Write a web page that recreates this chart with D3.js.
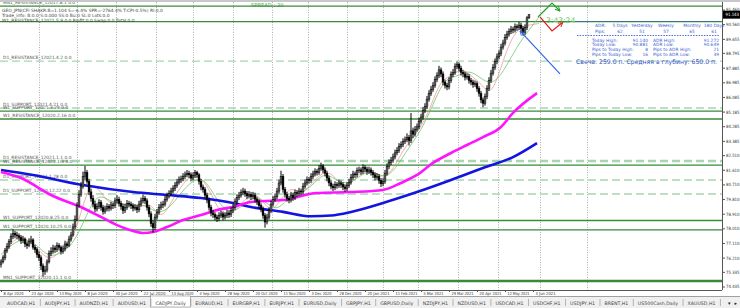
<!DOCTYPE html>
<html>
<head>
<meta charset="utf-8">
<script src="https://cdn.jsdelivr.net/npm/d3@7"></script>
<style>
  body { margin: 0; background: #fff; overflow: hidden; }
  svg { display: block; font-family: "DejaVu Sans", "Liberation Sans", sans-serif; }
</style>
</head>
<body>
<div id="svg-holder"></div>
<script>
// CADJPY, Daily - daily candles, one row per bar: [open, high, low, close]
const candles = [
[75.80,76.10,75.60,75.95],[75.95,76.35,75.85,76.20],[76.20,76.80,76.05,76.65],[76.65,77.10,76.50,76.90],
[76.90,77.35,76.75,77.20],[77.20,77.70,77.05,77.50],[77.50,77.95,77.35,77.70],[77.70,77.85,77.40,77.60],
[77.60,77.80,77.35,77.55],[77.55,77.70,77.25,77.45],[77.45,77.60,77.05,77.25],[77.25,77.55,77.10,77.35],
[77.35,77.45,76.85,77.05],[77.05,77.20,76.75,76.95],[76.95,77.40,76.85,77.20],[77.20,77.55,77.05,77.30],
[77.30,77.40,76.70,76.85],[76.85,77.00,76.50,76.70],[76.70,76.85,76.20,76.40],[76.40,76.60,76.00,76.20],
[76.20,76.35,75.45,75.70],[75.70,75.85,75.05,75.35],[75.35,75.70,75.15,75.45],[75.45,76.10,75.30,75.95],
[75.95,76.65,75.85,76.45],[76.45,76.85,76.30,76.60],[76.60,77.00,76.45,76.80],[76.80,76.95,76.50,76.70],
[76.70,77.15,76.55,76.95],[76.95,77.10,76.65,76.85],[76.85,76.95,76.40,76.60],[76.60,76.95,76.45,76.75],
[76.75,77.25,76.60,77.05],[77.05,77.20,76.80,76.95],[76.95,77.55,76.85,77.35],[77.35,77.80,77.20,77.60],
[77.60,78.30,77.50,78.10],[78.10,78.80,77.95,78.55],[78.55,79.60,78.45,79.40],[79.40,80.35,79.30,80.10],
[80.10,80.85,79.95,80.60],[80.60,81.50,80.45,81.20],[81.20,81.85,81.00,81.45],[81.45,81.60,80.75,80.90],
[80.90,81.05,80.05,80.25],[80.25,80.45,79.65,79.85],[79.85,80.05,79.30,79.50],[79.50,79.70,79.00,79.20],
[79.20,79.55,79.05,79.35],[79.35,79.80,79.20,79.60],[79.60,79.75,79.10,79.30],[79.30,79.45,78.85,79.05],
[79.05,79.40,78.90,79.20],[79.20,79.55,79.05,79.35],[79.35,79.50,79.05,79.25],[79.25,79.65,79.10,79.45],
[79.45,79.60,79.20,79.40],[79.40,79.90,79.25,79.70],[79.70,80.05,79.55,79.80],[79.80,79.95,79.35,79.55],
[79.55,79.70,79.15,79.35],[79.35,79.50,78.90,79.10],[79.10,79.50,78.95,79.30],[79.30,79.75,79.15,79.55],
[79.55,79.70,79.30,79.50],[79.50,79.65,79.20,79.40],[79.40,79.55,79.05,79.25],[79.25,79.50,79.10,79.30],
[79.30,79.45,78.95,79.15],[79.15,79.70,79.00,79.50],[79.50,79.90,79.35,79.70],[79.70,80.10,79.55,79.85],
[79.85,80.00,79.50,79.70],[79.70,79.85,79.10,79.30],[79.30,79.45,78.70,78.90],[78.90,79.05,78.10,78.30],
[78.30,78.50,77.75,78.05],[78.05,78.90,77.90,78.70],[78.70,79.20,78.55,79.00],[79.00,79.50,78.85,79.30],
[79.30,79.65,79.15,79.45],[79.45,79.70,79.25,79.50],[79.50,80.00,79.35,79.80],[79.80,80.20,79.65,80.00],
[80.00,80.35,79.85,80.15],[80.15,80.50,80.00,80.30],[80.30,80.65,80.15,80.45],[80.45,80.85,80.30,80.65],
[80.65,81.05,80.50,80.85],[80.85,81.20,80.70,81.00],[81.00,81.25,80.80,81.05],[81.05,81.40,80.90,81.20],
[81.20,81.50,81.05,81.30],[81.30,81.60,81.15,81.40],[81.40,81.55,81.10,81.30],[81.30,81.45,80.90,81.10],
[81.10,81.45,80.95,81.25],[81.25,81.60,81.10,81.45],[81.45,81.55,81.10,81.30],[81.30,81.40,80.70,80.90],
[80.90,81.05,80.35,80.55],[80.55,80.70,80.20,80.40],[80.40,80.55,79.85,80.05],[80.05,80.20,79.55,79.75],
[79.75,79.90,79.10,79.30],[79.30,79.45,78.75,78.95],[78.95,79.15,78.65,78.85],[78.85,79.00,78.50,78.70],
[78.70,78.85,78.40,78.60],[78.60,79.00,78.45,78.80],[78.80,79.10,78.65,78.90],[78.90,79.05,78.50,78.70],
[78.70,79.00,78.55,78.80],[78.80,79.15,78.65,78.95],[78.95,79.10,78.65,78.85],[78.85,79.30,78.70,79.10],
[79.10,79.50,78.95,79.30],[79.30,79.85,79.15,79.65],[79.65,80.10,79.50,79.90],[79.90,80.25,79.75,80.05],
[80.05,80.40,79.90,80.20],[80.20,80.50,80.05,80.30],[80.30,80.45,79.95,80.15],[80.15,80.30,79.80,80.00],
[80.00,80.30,79.85,80.10],[80.10,80.25,79.75,79.95],[79.95,80.25,79.80,80.05],[80.05,80.20,79.60,79.80],
[79.80,79.95,79.45,79.65],[79.65,79.80,79.20,79.40],[79.40,79.55,79.00,79.20],[79.20,79.35,78.60,78.80],
[78.80,78.95,78.05,78.40],[78.40,78.90,78.25,78.70],[78.70,79.30,78.55,79.10],[79.10,79.70,78.95,79.50],
[79.50,80.00,79.35,79.80],[79.80,80.15,79.65,79.95],[79.95,80.50,79.80,80.30],[80.30,81.00,80.15,80.80],
[80.80,81.55,80.65,81.20],[81.20,81.35,80.20,80.40],[80.40,80.55,79.90,80.10],[80.10,80.25,79.65,79.85],
[79.85,80.00,79.55,79.75],[79.75,80.25,79.60,80.05],[80.05,80.20,79.70,79.90],[79.90,80.40,79.75,80.20],
[80.20,80.35,79.95,80.15],[80.15,80.50,80.00,80.30],[80.30,80.45,80.05,80.25],[80.25,80.80,80.10,80.60],
[80.60,81.00,80.45,80.80],[80.80,81.20,80.65,81.00],[81.00,81.15,80.75,80.95],[80.95,81.40,80.80,81.20],
[81.20,81.55,81.05,81.35],[81.35,81.70,81.20,81.50],[81.50,81.65,81.25,81.45],[81.45,81.90,81.30,81.70],
[81.70,82.05,81.55,81.85],[81.85,81.95,81.40,81.60],[81.60,81.75,81.20,81.40],[81.40,81.55,80.90,81.10],
[81.10,81.25,80.60,80.80],[80.80,80.95,80.40,80.60],[80.60,80.75,80.30,80.50],[80.50,80.90,80.35,80.70],
[80.70,80.85,80.45,80.65],[80.65,81.00,80.50,80.80],[80.80,80.95,80.50,80.70],[80.70,80.85,80.35,80.55],
[80.55,80.70,80.25,80.45],[80.45,80.85,80.30,80.65],[80.65,81.05,80.50,80.85],[80.85,81.35,80.70,81.15],
[81.15,81.55,81.00,81.35],[81.35,81.50,81.10,81.30],[81.30,81.75,81.15,81.55],[81.55,81.80,81.40,81.60],
[81.60,81.75,81.30,81.50],[81.50,81.95,81.35,81.75],[81.75,81.90,81.45,81.65],[81.65,81.80,81.30,81.50],
[81.50,81.80,81.35,81.60],[81.60,81.75,81.25,81.45],[81.45,81.60,81.10,81.30],[81.30,81.45,80.95,81.15],
[81.15,81.40,81.00,81.20],[81.20,81.35,80.75,80.95],[80.95,81.10,80.55,80.75],[80.75,81.10,80.60,80.90],
[80.90,81.60,80.75,81.40],[81.40,82.00,81.25,81.80],[81.80,82.25,81.65,82.05],[82.05,82.40,81.90,82.20],
[82.20,82.60,82.05,82.40],[82.40,82.85,82.25,82.65],[82.65,83.00,82.50,82.80],[82.80,83.25,82.65,83.05],
[83.05,83.35,82.90,83.15],[83.15,83.55,83.00,83.35],[83.35,83.65,83.20,83.45],[83.45,83.85,83.30,83.60],
[83.60,83.75,83.10,83.40],[83.40,85.10,83.25,84.00],[84.00,84.20,83.55,83.80],[83.80,84.30,83.65,84.10],
[84.10,84.45,83.95,84.25],[84.25,84.80,84.10,84.60],[84.60,85.05,84.45,84.85],[84.85,85.45,84.70,85.25],
[85.25,85.70,85.10,85.50],[85.50,86.15,85.35,85.95],[85.95,86.50,85.80,86.30],[86.30,86.75,86.15,86.55],
[86.55,87.00,86.40,86.80],[86.80,87.35,86.65,87.15],[87.15,87.60,87.00,87.40],[87.40,88.00,87.25,87.75],
[87.75,87.90,87.30,87.50],[87.50,87.65,86.80,87.00],[87.00,87.15,86.60,86.80],[86.80,86.95,86.50,86.70],
[86.70,87.30,86.55,87.10],[87.10,87.65,86.95,87.45],[87.45,87.80,87.30,87.60],[87.60,88.15,87.45,87.95],
[87.95,88.25,87.80,88.10],[88.10,88.20,87.65,87.85],[87.85,88.00,87.40,87.60],[87.60,87.75,87.30,87.50],
[87.50,87.65,87.10,87.30],[87.30,87.55,87.15,87.35],[87.35,87.50,86.90,87.10],[87.10,87.25,86.80,87.00],
[87.00,87.15,86.65,86.85],[86.85,87.10,86.70,86.90],[86.90,87.05,86.40,86.60],[86.60,86.75,86.10,86.30],
[86.30,86.45,85.70,85.90],[85.90,86.05,85.45,85.70],[85.70,86.30,85.55,86.10],[86.10,86.80,85.95,86.60],
[86.60,87.30,86.45,87.10],[87.10,87.75,86.95,87.55],[87.55,88.10,87.40,87.90],[87.90,88.45,87.75,88.25],
[88.25,88.75,88.10,88.55],[88.55,88.95,88.40,88.75],[88.75,89.35,88.60,89.15],[89.15,89.60,89.00,89.40],
[89.40,89.95,89.25,89.75],[89.75,90.15,89.60,89.95],[89.95,90.30,89.80,90.10],[90.10,90.45,89.95,90.25],
[90.25,90.40,90.00,90.20],[90.20,90.60,90.05,90.40],[90.40,90.55,90.15,90.35],[90.35,90.70,90.20,90.50],
[90.50,90.65,90.10,90.30],[90.30,90.45,89.85,90.05],[90.05,90.55,89.90,90.35],[90.35,91.05,90.20,90.95],
[90.95,91.14,90.88,91.14]
];

// moving averages, sampled as [bar, price]
const maSlow = [[0,81.60],[16,81.29],[41,80.67],[66,80.24],[83,80.06],[100,79.87],[116,79.57],[125,79.32],
  [141,79.02],[155,78.75],[165,78.80],[175,79.02],[191,79.57],[208,80.24],[225,80.98],[241,81.72],[256,82.39],[268,83.25]];
const maMid = [[0,81.47],[10,81.10],[25,80.06],[41,79.26],[50,78.71],[58,78.21],[66,77.85],[71,77.72],[76,77.78],
  [83,78.09],[91,78.52],[100,78.83],[108,79.14],[116,79.32],[125,79.63],[141,79.75],[158,80.18],[175,80.24],
  [191,80.37],[200,80.80],[208,81.29],[216,82.03],[225,82.64],[233,83.13],[241,83.62],[250,84.24],[256,85.10],[268,86.32]];
const maFast = [[0,76.4],[6,77.1],[12,77.4],[18,77.0],[24,76.2],[30,76.5],[36,77.0],[42,78.6],[48,80.2],[54,79.7],
  [60,79.5],[66,79.4],[72,79.5],[78,78.9],[84,79.2],[90,80.2],[96,81.0],[102,81.1],[108,79.7],[114,78.9],[120,79.3],
  [126,80.0],[132,79.7],[138,79.0],[144,80.0],[150,80.1],[156,80.7],[162,81.5],[168,80.9],[174,80.7],[180,81.3],
  [186,81.6],[192,81.0],[198,81.8],[204,83.0],[210,84.0],[216,85.6],[222,87.3],[228,87.3],[234,87.8],[240,87.2],
  [246,86.8],[252,87.8],[258,89.2],[264,90.2],[269,91.0]];
const maSignal = [[0,76.0],[5,77.2],[10,77.5],[15,77.2],[20,76.5],[25,76.0],[30,76.7],[35,77.0],[40,79.0],[45,81.0],
  [50,80.2],[55,79.4],[60,79.6],[65,79.4],[70,79.3],[75,79.6],[80,78.5],[85,79.6],[90,80.6],[95,81.3],[100,81.2],
  [105,80.2],[110,78.8],[115,78.8],[120,79.5],[125,80.2],[130,79.9],[135,78.9],[140,79.8],[145,80.6],[150,80.1],
  [155,80.7],[160,81.4],[165,81.5],[170,80.6],[175,80.7],[180,81.5],[185,81.6],[190,81.1],[195,81.4],[200,82.6],
  [205,83.5],[210,84.2],[215,85.5],[220,87.2],[225,87.3],[230,87.9],[235,87.4],[240,86.9],[245,86.1],[250,87.9],
  [255,89.7],[260,90.4],[264,90.5],[269,90.6]];

// support / resistance levels
const levelPrice = [91.67, 90.72, 88.29, 85.41, 85.22, 84.73, 82.15, 81.90, 80.98, 80.12, 78.49, 77.91, 74.77];
const levelStyle = ["solid","solid","dash","dash","solid","solid","dashBold","solid","dash","dash","solid","solid","solidBold"];
const levelLabel = ["MN1_RESISTANCE_12017.8.1 0.0", "", "D1_RESISTANCE_12021.4.2 0.0", "D1_SUPPORT_12021.4.21 0.0",
  "W1_SUPPORT_12021.3.28 0.0", "W1_RESISTANCE_12020.2.16 0.0", "D1_RESISTANCE_12021.1.1 0.0", "W1_RESISTANCE_12021.1.3 0.0",
  "D1_SUPPORT_12021.1.28 0.0", "D1_SUPPORT_12020.12.22 0.0", "W1_SUPPORT_12020.8.25 0.0", "W1_SUPPORT_12020.10.25 0.0",
  "MN1_SUPPORT_12020.11.1 0.0"];

const priceTicks = [91.460, 90.560, 89.655, 88.795, 87.885, 86.985, 86.085, 85.185, 84.285, 83.385,
  82.510, 81.610, 80.710, 79.810, 78.910, 78.010, 77.110, 76.210, 75.335, 74.435];
const lastPrice = 91.143;
const dateBars = [0,14,28,42,56,70,84,98,112,126,140,154,168,182,196,210,224,238,252,266];
const dateLabels = ["8 Apr 2020","23 Apr 2020","13 May 2020","8 Jun 2020","30 Jun 2020","22 Jul 2020","13 Aug 2020",
  "4 Sep 2020","28 Sep 2020","20 Oct 2020","11 Nov 2020","3 Dec 2020","28 Dec 2020","20 Jan 2021","11 Feb 2021",
  "5 Mar 2021","29 Mar 2021","20 Apr 2021","12 May 2021","3 Jun 2021"];
const gridBars = [19, 38, 57.5, 77.5, 96, 116, 135.5, 153.5, 173, 191, 208.5, 228.5, 248.5, 269.5, 293];

// drawn objects
const trendBlue = [[259.5, 90.14], [279.5, 87.50]];
const arrowGreen = [[268.5, 91.00], [275.5, 91.86], [279.5, 91.37]];
const arrowRed = [[269.5, 91.00], [275.5, 90.14], [281, 90.69]];

// info panel
const adrHead = ["5 Days", "Yesterday", "Weekly", "Monthly", "180 Days"];
const adrPips = ["62", "51", "57", "65", "61"];
const dayLeft = ["Today High:", "Today Low:", "Pips to Today High:", "Pips to Today Low:"];
const dayLeftVal = ["91.140", "90.881", "8", "16"];
const dayRight = ["ADR High:", "ADR Low:", "Pips to ADR High:", "Pips to ADR Low:"];
const dayRightVal = ["91.272", "90.649", "21", "39"];
const candleNote = "Свеча: 259.0 п. Средняя в глубину: 650.0 п.";
const timerText = "3:43:24";
const spreadText = "SPREAD : 20";
const headerLines = ["GEO_JPN(CFI SHAKR:B=1.104 S=-6.4% SPR=-2764.4% T:CPI-0.5%) RI:0.0",
  "Trade_info: B:0.0 S:0.000 SS:0 Bu:0 SL:0 Lots:0.0",
  "W1_RESISTANCE_12021.5.9 0.0  Profit:0.0 Swap:0.0 Total:0.0"];
const tabs = ["AUDCAD,H1","AUDJPY,H1","AUDNZD,H1","AUDUSD,H1","CADJPY,Daily","EURAUD,H1","EURGBP,H1","EURJPY,H1",
  "EURUSD,Daily","GBPJPY,H1","GBPUSD,Daily","NZDJPY,H1","NZDUSD,H1","USDCAD,H1","USDCHF,H1","USDJPY,H1",
  "BRENT,H1","US500Cash,Daily","XAUUSD,H1"];
const activeTab = "CADJPY,Daily";

const W = 740, H = 308, plotR = 722, plotB = 290;

let svg = d3.select("#svg-holder").append("svg")
  .attr("width", W).attr("height", H);

svg.append("rect").attr("width", W).attr("height", H).attr("fill", "#fff");

const x = d3.scaleLinear().domain([0, 360]).range([1, 721]);
const y = d3.scaleLinear().domain([74.435, 91.460]).range([286.5, 9.5]);

svg.append("clipPath").attr("id", "plot-clip")
  .append("rect").attr("x", 0).attr("y", 2).attr("width", plotR).attr("height", plotB - 2);

const plot = svg.append("g").attr("clip-path", "url(#plot-clip)");

// vertical dotted grid
plot.selectAll(".grid").data(gridBars).join("line")
  .attr("x1", d => Math.round(x(d)) + 0.5).attr("x2", d => Math.round(x(d)) + 0.5)
  .attr("y1", 2).attr("y2", plotB)
  .attr("stroke", "#9a9a9a").attr("stroke-width", 0.8).attr("stroke-dasharray", "1,1.5");

// levels
const lvStroke = { solid: "#3a8a3a", solidBold: "#3a8a3a", dash: "#a6d6b0", dashBold: "#a6d6b0" };
const lvWidth = { solid: 1.3, solidBold: 2.4, dash: 1.4, dashBold: 2.4 };
plot.selectAll(".lvl").data(levelPrice).join("line")
  .attr("x1", 0).attr("x2", plotR)
  .attr("y1", d => y(d)).attr("y2", d => y(d))
  .attr("stroke", (d, i) => lvStroke[levelStyle[i]])
  .attr("stroke-width", (d, i) => lvWidth[levelStyle[i]])
  .attr("stroke-dasharray", (d, i) => levelStyle[i].startsWith("dash") ? "8,4" : null);

plot.selectAll(".lvlText").data(levelPrice).join("text")
  .attr("x", 3).attr("y", d => y(d) - 1.6)
  .attr("font-size", 4.4).attr("fill", "#555")
  .text((d, i) => levelLabel[i]);

// moving averages
const ln = d3.line().x(d => x(d[0])).y(d => y(d[1])).curve(d3.curveMonotoneX);
const lnSoft = d3.line().x(d => x(d[0])).y(d => y(d[1])).curve(d3.curveBasis);
plot.append("path").attr("d", lnSoft(maSignal)).attr("fill", "none").attr("stroke", "#f08a8a").attr("stroke-width", 0.7);
plot.append("path").attr("d", lnSoft(maFast)).attr("fill", "none").attr("stroke", "#5cbf5c").attr("stroke-width", 0.7);
plot.append("path").attr("d", ln(maSlow)).attr("fill", "none").attr("stroke", "#1414e0").attr("stroke-width", 2.6);
plot.append("path").attr("d", ln(maMid)).attr("fill", "none").attr("stroke", "#ff14ff").attr("stroke-width", 2.6);

// candles
const cg = plot.append("g");
cg.selectAll("line").data(candles).join("line")
  .attr("x1", (d, i) => x(i)).attr("x2", (d, i) => x(i))
  .attr("y1", d => y(d[1])).attr("y2", d => y(d[2]))
  .attr("stroke", "#000").attr("stroke-width", 1);
cg.selectAll("rect").data(candles).join("rect")
  .attr("x", (d, i) => x(i) - 0.9).attr("width", 1.8)
  .attr("y", d => y(Math.max(d[0], d[3])))
  .attr("height", d => Math.max(0.7, Math.abs(y(d[0]) - y(d[3]))))
  .attr("fill", d => d[3] >= d[0] ? "#777" : "#000")
  .attr("stroke", "#000").attr("stroke-width", 0.5);

// drawn objects
const defs = svg.append("defs");
function head(id, color) {
  defs.append("marker").attr("id", id).attr("viewBox", "0 0 10 10")
    .attr("refX", 9).attr("refY", 5).attr("markerWidth", 5).attr("markerHeight", 5)
    .attr("orient", "auto-start-reverse")
    .append("path").attr("d", "M1,1 L9,5 L1,9").attr("fill", "none").attr("stroke", color).attr("stroke-width", 1.6);
}
head("hb", "#2a62e8"); head("hg", "#22a022"); head("hr", "#e01818");
const straight = d3.line().x(d => x(d[0])).y(d => y(d[1]));
svg.append("path").attr("d", straight(trendBlue)).attr("fill", "none")
  .attr("stroke", "#2a62e8").attr("stroke-width", 1.1).attr("marker-start", "url(#hb)");
svg.append("path").attr("d", straight(arrowGreen)).attr("fill", "none")
  .attr("stroke", "#22a022").attr("stroke-width", 1.2).attr("marker-end", "url(#hg)");
svg.append("path").attr("d", straight(arrowRed)).attr("fill", "none")
  .attr("stroke", "#e01818").attr("stroke-width", 1.2).attr("marker-end", "url(#hr)");

// timer
svg.append("text").attr("x", x(272.5)).attr("y", y(90.65))
  .attr("font-size", 7.6).attr("fill", "#66c266").text(timerText);

// frame
svg.append("rect").attr("x", 0).attr("y", 0).attr("width", W).attr("height", 2).attr("fill", "#c8c8c8");
svg.append("line").attr("x1", plotR + 0.5).attr("x2", plotR + 0.5).attr("y1", 2).attr("y2", plotB)
  .attr("stroke", "#555").attr("stroke-width", 1);
svg.append("line").attr("x1", 0).attr("x2", plotR).attr("y1", plotB + 0.5).attr("y2", plotB + 0.5)
  .attr("stroke", "#555").attr("stroke-width", 1);

// price axis
const ya = svg.append("g").attr("transform", `translate(${plotR + 1},0)`)
  .call(d3.axisRight(y).tickValues(priceTicks).tickSize(2).tickFormat(d3.format(".3f")));
ya.select(".domain").remove();
ya.selectAll("line").attr("stroke", "#555");
ya.selectAll("text").attr("x", 3).attr("font-size", 4.4).attr("fill", "#333")
  .attr("font-family", "DejaVu Sans, sans-serif")
  .attr("textLength", 13.5).attr("lengthAdjust", "spacingAndGlyphs");

// current price box
svg.append("rect").attr("x", plotR + 1).attr("y", y(lastPrice) - 4).attr("width", W - plotR - 1).attr("height", 8).attr("fill", "#000");
svg.append("text").attr("x", plotR + 3.5).attr("y", y(lastPrice) + 1.7)
  .attr("font-size", 4.4).attr("fill", "#fff")
  .attr("textLength", 13.5).attr("lengthAdjust", "spacingAndGlyphs")
  .text(d3.format(".3f")(lastPrice));

// time axis
const xa = svg.append("g").attr("transform", `translate(0,${plotB})`)
  .call(d3.axisBottom(x).tickValues(dateBars).tickSize(2).tickFormat((d, i) => dateLabels[i]));
xa.select(".domain").remove();
xa.selectAll("line").attr("stroke", "#555");
xa.selectAll("text").attr("text-anchor", "start").attr("dx", 2).attr("y", 2.5)
  .attr("font-size", 4.2).attr("fill", "#333").attr("font-family", "DejaVu Sans, sans-serif")
  .attr("textLength", (d, i) => dateLabels[i].length * 2.0).attr("lengthAdjust", "spacingAndGlyphs");

// header texts
svg.selectAll(".hdr").data(headerLines).join("text")
  .attr("x", 2).attr("y", (d, i) => 11.5 + i * 5)
  .attr("font-size", 4.4).attr("fill", "#444").text(d => d);
svg.append("text").attr("x", 251).attr("y", 6.5).attr("font-size", 5.2).attr("fill", "#3a9a3a").text(spreadText);

// ADR panel
const blue = "#3f5fcf";
const panel = svg.append("g").attr("fill", blue).attr("font-size", 4.4);
panel.append("line").attr("x1", 577).attr("x2", 720).attr("y1", 21.5).attr("y2", 21.5)
  .attr("stroke", blue).attr("stroke-width", 0.9).attr("stroke-dasharray", "1.5,1.2");
panel.append("line").attr("x1", 577).attr("x2", 720).attr("y1", 35.5).attr("y2", 35.5)
  .attr("stroke", blue).attr("stroke-width", 0.9).attr("stroke-dasharray", "1.5,1.2");
const colX = [620, 642, 666, 692, 714];
panel.append("text").attr("x", 595).attr("y", 27).text("ADR:");
panel.append("text").attr("x", 595).attr("y", 33).text("Pips:");
panel.selectAll(".ah").data(adrHead).join("text").attr("x", (d, i) => colX[i]).attr("y", 27)
  .attr("text-anchor", "middle").text(d => d);
panel.selectAll(".ap").data(adrPips).join("text").attr("x", (d, i) => colX[i]).attr("y", 33)
  .attr("text-anchor", "middle").text(d => d);
panel.selectAll(".dl").data(dayLeft).join("text").attr("x", 592).attr("y", (d, i) => 41.5 + i * 4.8).text(d => d);
panel.selectAll(".dlv").data(dayLeftVal).join("text").attr("x", 648).attr("y", (d, i) => 41.5 + i * 4.8)
  .attr("text-anchor", "end").text(d => d);
panel.selectAll(".dr").data(dayRight).join("text").attr("x", 653).attr("y", (d, i) => 41.5 + i * 4.8).text(d => d);
panel.selectAll(".drv").data(dayRightVal).join("text").attr("x", 719).attr("y", (d, i) => 41.5 + i * 4.8)
  .attr("text-anchor", "end").text(d => d);
svg.append("text").attr("x", 576).attr("y", 64).attr("font-size", 6.4).attr("fill", "#3450cc")
  .attr("textLength", 141).attr("lengthAdjust", "spacingAndGlyphs").text(candleNote);

// symbol tabs
svg.append("rect").attr("x", 0).attr("y", 296).attr("width", W).attr("height", 12).attr("fill", "#f0f0f0");
svg.append("line").attr("x1", 0).attr("x2", W).attr("y1", 296.5).attr("y2", 296.5).attr("stroke", "#a0a0a0");
const tg = svg.append("g").attr("font-size", 4.7).attr("fill", "#444");
let tx = 2;
tabs.forEach(t => {
  const txt = tg.append("text").attr("x", tx + 5).attr("y", 304.5).text(t);
  const w = txt.node().getComputedTextLength() + 9.5;
  if (t === activeTab) {
    tg.insert("rect", "text").attr("x", tx).attr("y", 296).attr("width", w).attr("height", 11)
      .attr("fill", "#fff").attr("stroke", "#888").attr("stroke-width", 0.6);
  }
  tx += w;
  tg.append("line").attr("x1", tx + 0.5).attr("x2", tx + 0.5).attr("y1", 299).attr("y2", 306)
    .attr("stroke", "#999").attr("stroke-width", 0.7);
});
svg.append("rect").attr("x", 726).attr("y", 297).attr("width", 14).attr("height", 11).attr("fill", "#f0f0f0");
svg.append("text").attr("x", 728).attr("y", 305).attr("font-size", 5).attr("fill", "#222").text("▾");
svg.append("text").attr("x", 734.5).attr("y", 305).attr("font-size", 5).attr("fill", "#222").text("▸");
</script>
</body>
</html>
